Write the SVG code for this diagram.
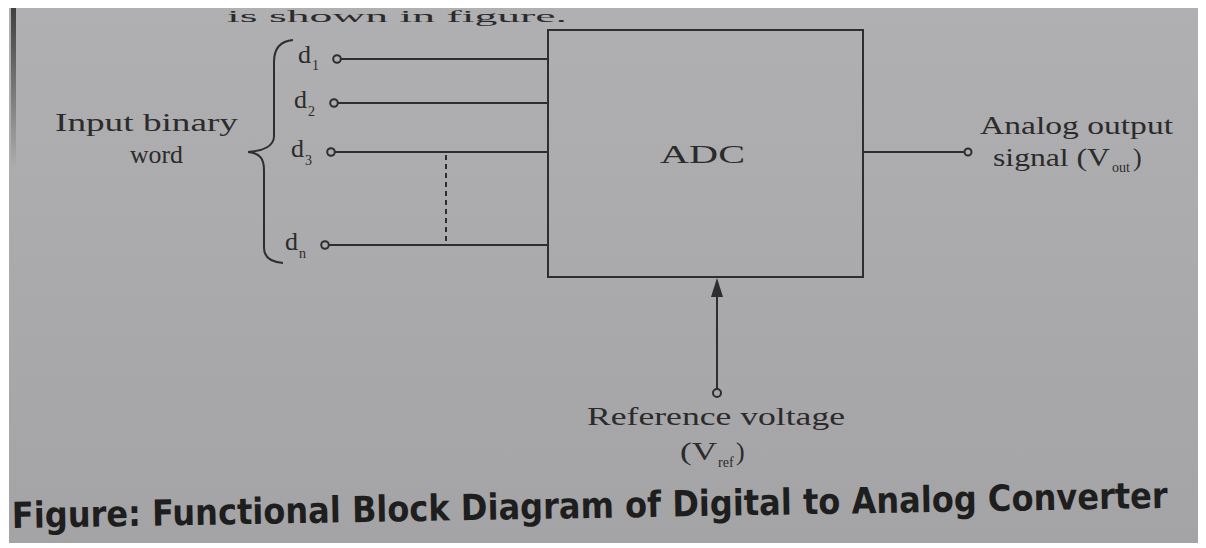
<svg xmlns="http://www.w3.org/2000/svg" width="1206" height="548" viewBox="0 0 1206 548">
  <defs>
    <linearGradient id="bg" x1="0" y1="0" x2="0" y2="1">
      <stop offset="0" stop-color="#b0afb1"/>
      <stop offset="1" stop-color="#a4a3a5"/>
    </linearGradient>
    <linearGradient id="edge" x1="0" y1="0" x2="0" y2="1">
      <stop offset="0" stop-color="#333" stop-opacity="0.9"/>
      <stop offset="1" stop-color="#333" stop-opacity="0"/>
    </linearGradient>
  </defs>
  <style>
    .ln { stroke: #2e2e2e; stroke-width: 2; fill: none; }
    .term { stroke: #2e2e2e; stroke-width: 2; fill: none; }
    .t { font-family: "Liberation Serif", "Times New Roman", serif; fill: #2b2b2b; font-size: 26px; }
    .sub { font-family: "Liberation Serif", "Times New Roman", serif; fill: #2b2b2b; font-size: 14px; }
    .title { font-family: "Liberation Sans Narrow", "DejaVu Sans Condensed", "Liberation Sans", sans-serif; font-weight: bold; fill: #1e1e1e; font-size: 36px; }
  </style>
  <rect x="0" y="0" width="1206" height="548" fill="#ffffff"/>
  <rect x="9" y="8" width="1189" height="535" fill="url(#bg)"/>
  <rect x="11" y="8" width="5" height="160" fill="url(#edge)"/>
  <text x="227" y="22" class="t" style="font-size:17px" textLength="340" lengthAdjust="spacingAndGlyphs">is shown in figure.</text>

  <g id="input-label">
    <text x="55" y="131" class="t" textLength="183" lengthAdjust="spacingAndGlyphs">Input binary</text>
    <text x="130" y="163" class="t" textLength="53" lengthAdjust="spacingAndGlyphs">word</text>
    <path class="ln" d="M293,40 C281,41 274,48 274,62 L274,136 C274,146 263,151 248,152 C261,153 264,160 264,170 L264,248 C264,258 271,262 283,263"/>
  </g>

  <g id="d1">
    <text x="298" y="63" class="t">d</text><text x="312" y="70" class="sub">1</text>
    <circle cx="337" cy="59" r="3.8" class="term"/>
  </g>
  <g id="d2">
    <text x="294" y="108" class="t">d</text><text x="308" y="116" class="sub">2</text>
    <circle cx="334" cy="103" r="3.8" class="term"/>
  </g>
  <g id="d3">
    <text x="291" y="157" class="t">d</text><text x="305" y="165" class="sub">3</text>
    <circle cx="331" cy="152" r="3.8" class="term"/>
  </g>
  <g id="dn">
    <text x="285" y="250" class="t">d</text><text x="299" y="258" class="sub">n</text>
    <circle cx="325" cy="245" r="3.8" class="term"/>
  </g>

  <g id="adc">
    <rect x="548" y="30" width="315" height="247" class="ln"/>
    <text x="660" y="163" class="t" textLength="85" lengthAdjust="spacingAndGlyphs">ADC</text>
  </g>

  <g id="output">
    <circle cx="968" cy="152" r="3.5" class="term"/>
    <text x="980" y="134" class="t" textLength="193" lengthAdjust="spacingAndGlyphs">Analog output</text>
    <text x="993" y="166" class="t" textLength="117" lengthAdjust="spacingAndGlyphs">signal (V</text>
    <text x="1112" y="172" class="sub">out</text>
    <text x="1133" y="166" class="t">)</text>
  </g>

  <g id="reference">
    <circle cx="717" cy="393" r="4" class="term"/>
    <text x="587" y="425" class="t" textLength="258" lengthAdjust="spacingAndGlyphs">Reference voltage</text>
    <text x="680" y="460" class="t" textLength="37" lengthAdjust="spacingAndGlyphs">(V</text>
    <text x="718" y="467" class="sub">ref</text>
    <text x="736" y="460" class="t">)</text>
  </g>

  <g id="connectors">
    <line x1="341" y1="59" x2="548" y2="59" class="ln"/>
    <line x1="338" y1="103" x2="548" y2="103" class="ln"/>
    <line x1="335" y1="152" x2="548" y2="152" class="ln"/>
    <line x1="329" y1="245" x2="548" y2="245" class="ln"/>
    <line x1="446" y1="155" x2="446" y2="245" class="ln" stroke-dasharray="5,4"/>
    <line x1="863" y1="152" x2="964" y2="152" class="ln"/>
    <line x1="717" y1="389" x2="717" y2="292" class="ln"/>
    <polygon points="717,278 711,297 723,297" fill="#2e2e2e"/>
  </g>

  <text class="title" x="12" y="518" transform="rotate(-1 590 518)" textLength="1156" lengthAdjust="spacingAndGlyphs">Figure: Functional Block Diagram of Digital to Analog Converter</text>
</svg>
